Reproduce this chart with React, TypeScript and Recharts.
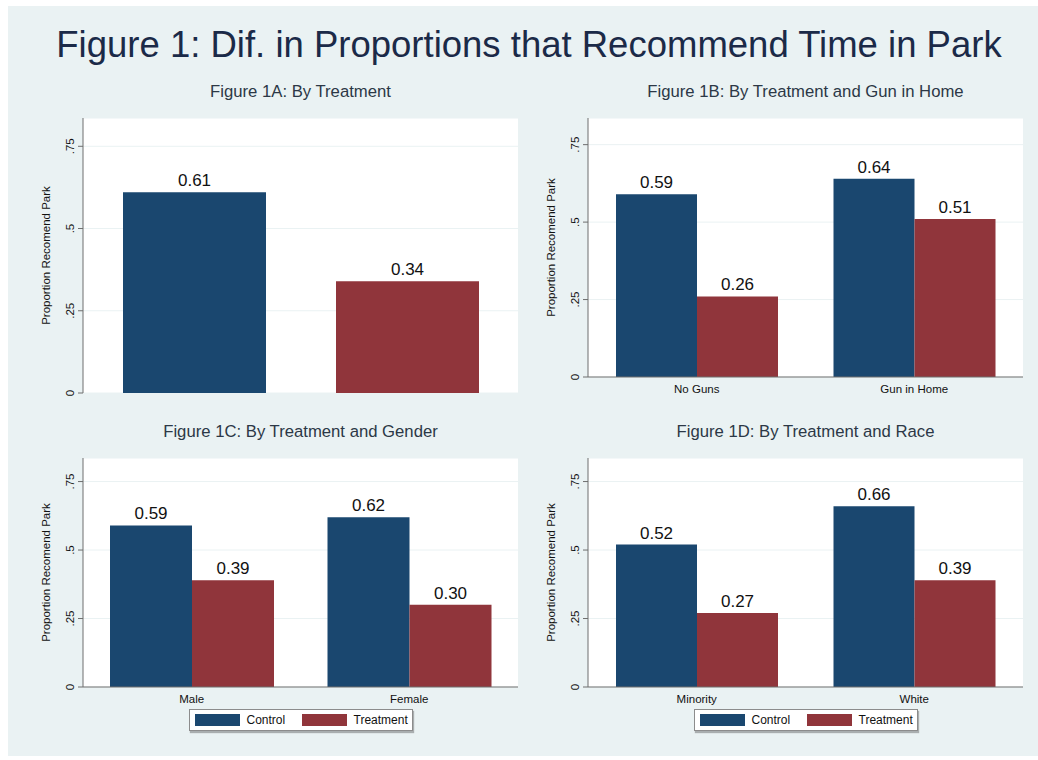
import React from 'react';
import { BarChart, Bar, XAxis, YAxis, CartesianGrid, LabelList, Label } from 'recharts';

// ---- data ----
const SERIES = ['Control', 'Treatment'];
const SERIES_COLORS = ['#1a476f', '#90353b'];

// Figure 1A has a single (overall) group
const OVERALL_GROUP = ['Overall'];
const OVERALL_CONTROL = [0.61];
const OVERALL_TREATMENT = [0.34];

const GUN_GROUPS = ['No Guns', 'Gun in Home'];
const GUN_CONTROL = [0.59, 0.64];
const GUN_TREATMENT = [0.26, 0.51];

const GENDER_GROUPS = ['Male', 'Female'];
const GENDER_CONTROL = [0.59, 0.62];
const GENDER_TREATMENT = [0.39, 0.3];

const RACE_GROUPS = ['Minority', 'White'];
const RACE_CONTROL = [0.52, 0.66];
const RACE_TREATMENT = [0.27, 0.39];

const Y_TICKS = [0, 0.25, 0.5, 0.75];
const Y_TICK_LABELS = ['0', '.25', '.5', '.75'];
const Y_MAX = 0.836;

const MAIN_TITLE = 'Figure 1: Dif. in Proportions that Recommend Time in Park';
const Y_TITLE = 'Proportion Recomend Park';

// ---- style ----
const FONT = '"Liberation Sans", Arial, Helvetica, sans-serif';
const PAGE_BG = '#EAF2F3';
const GRID = '#EAF2F3';
const AXIS = '#6e6e6e';
const TEXT = '#111';

const YTick = (props: any) => {
  const { x, y, payload } = props;
  const idx = Y_TICKS.indexOf(payload.value);
  const cx = x - 6;
  return (
    <text
      x={cx}
      y={y}
      transform={`rotate(-90, ${cx}, ${y})`}
      textAnchor="middle"
      dy="0.35em"
      fontSize={11.5}
      fontFamily={FONT}
      fill={TEXT}
    >
      {idx >= 0 ? Y_TICK_LABELS[idx] : ''}
    </text>
  );
};

const YTitle = (props: any) => {
  const vb = props.viewBox || { x: 0, y: 0, width: 60, height: 200 };
  const cx = vb.x + vb.width - 37;
  const cy = vb.y + vb.height / 2;
  return (
    <text
      x={cx}
      y={cy}
      transform={`rotate(-90, ${cx}, ${cy})`}
      textAnchor="middle"
      dy="0.35em"
      fontSize={11.5}
      fontFamily={FONT}
      fill={TEXT}
    >
      {Y_TITLE}
    </text>
  );
};

type Rect = { x: number; y: number; w: number; h: number };

const YAXIS_W = 60;
const PAD_TOP = 10;
const PAD_RIGHT = 10;
const PAD_BOTTOM = 40;
const XAXIS_H = 30;

const fmt = (v: any) => Number(v).toFixed(2);

function Panel({
  plot,
  data,
  hideCategories,
  categoryGap,
  barGap,
}: {
  plot: Rect;
  data: any[];
  hideCategories: boolean;
  categoryGap: number;
  barGap: number;
}) {
  const width = plot.w + YAXIS_W + PAD_RIGHT;
  const height = plot.h + PAD_TOP + PAD_BOTTOM;
  return (
    <div style={{ position: 'absolute', left: plot.x - YAXIS_W, top: plot.y - PAD_TOP }}>
      <BarChart
        width={width}
        height={height}
        data={data}
        margin={{
          top: PAD_TOP,
          right: PAD_RIGHT,
          left: 0,
          bottom: hideCategories ? PAD_BOTTOM : PAD_BOTTOM - XAXIS_H,
        }}
        barCategoryGap={categoryGap}
        barGap={barGap}
      >
        <CartesianGrid vertical={false} stroke={GRID} fill="#ffffff" />
        <XAxis
          dataKey="group"
          hide={hideCategories}
          height={XAXIS_H}
          tickLine={false}
          axisLine={{ stroke: AXIS }}
          tick={{ fontSize: 11.5, fill: TEXT, fontFamily: FONT }}
          interval={0}
        />
        <YAxis
          width={YAXIS_W}
          domain={[0, Y_MAX]}
          ticks={Y_TICKS}
          allowDataOverflow
          tickSize={5}
          tickMargin={2}
          tickLine={{ stroke: AXIS }}
          axisLine={{ stroke: AXIS }}
          tick={<YTick />}
        >
          <Label content={<YTitle />} />
        </YAxis>
        {SERIES.map((s, i) => (
          <Bar key={s} dataKey={s} fill={SERIES_COLORS[i]} isAnimationActive={false}>
            <LabelList
              dataKey={s}
              position="top"
              offset={6}
              formatter={fmt}
              fill={TEXT}
              fontSize={17}
              fontFamily={FONT}
            />
          </Bar>
        ))}
      </BarChart>
    </div>
  );
}

function LegendBox({ cx, top }: { cx: number; top: number }) {
  const swatchX = [5, 112];
  const textX = [57, 164];
  return (
    <div
      style={{
        position: 'absolute',
        left: cx - 112,
        top,
        width: 224,
        height: 22,
        background: '#fff',
        border: '1px solid #8c8c8c',
        boxShadow: '1px 2px 1px rgba(0,0,0,0.28)',
        boxSizing: 'border-box',
        fontFamily: FONT,
      }}
    >
      {SERIES.map((s, i) => (
        <React.Fragment key={s}>
          <div
            style={{
              position: 'absolute',
              left: swatchX[i],
              top: 4,
              width: 45,
              height: 12,
              background: SERIES_COLORS[i],
            }}
          />
          <div
            style={{
              position: 'absolute',
              left: textX[i],
              top: 3,
              fontSize: 12,
              lineHeight: '14px',
              color: TEXT,
              whiteSpace: 'nowrap',
            }}
          >
            {s}
          </div>
        </React.Fragment>
      ))}
    </div>
  );
}

const PLOT_A: Rect = { x: 83, y: 118, w: 435, h: 275 };
const PLOT_B: Rect = { x: 588, y: 118, w: 435, h: 259 };
const PLOT_C: Rect = { x: 83, y: 458, w: 435, h: 229 };
const PLOT_D: Rect = { x: 588, y: 458, w: 435, h: 229 };

const grouped = (groups: string[], control: number[], treatment: number[]) =>
  groups.map((g, i) => ({ group: g, [SERIES[0]]: control[i], [SERIES[1]]: treatment[i] }));

export default function App() {
  const dataA = grouped(OVERALL_GROUP, OVERALL_CONTROL, OVERALL_TREATMENT);
  const dataB = grouped(GUN_GROUPS, GUN_CONTROL, GUN_TREATMENT);
  const dataC = grouped(GENDER_GROUPS, GENDER_CONTROL, GENDER_TREATMENT);
  const dataD = grouped(RACE_GROUPS, RACE_CONTROL, RACE_TREATMENT);

  const subtitles = [
    { text: 'Figure 1A: By Treatment', plot: PLOT_A, y: 97 },
    { text: 'Figure 1B: By Treatment and Gun in Home', plot: PLOT_B, y: 97 },
    { text: 'Figure 1C: By Treatment and Gender', plot: PLOT_C, y: 437 },
    { text: 'Figure 1D: By Treatment and Race', plot: PLOT_D, y: 437 },
  ];

  return (
    <div
      style={{
        position: 'absolute',
        left: 0,
        top: 0,
        width: 1038,
        height: 760,
        background: '#fff',
        overflow: 'hidden',
        fontFamily: FONT,
      }}
    >
      <svg width={1038} height={760} style={{ position: 'absolute', left: 0, top: 0 }}>
        <rect x={8} y={6} width={1030} height={750} fill={PAGE_BG} />
        <text x={529} y={57} textAnchor="middle" fontSize={36.5} fontFamily={FONT} fill="#1b2a48">
          {MAIN_TITLE}
        </text>
        {subtitles.map((s) => (
          <text
            key={s.text}
            x={s.plot.x + s.plot.w / 2}
            y={s.y}
            textAnchor="middle"
            fontSize={16.7}
            fontFamily={FONT}
            fill="#2c3846"
          >
            {s.text}
          </text>
        ))}
      </svg>
      <Panel plot={PLOT_A} data={dataA} hideCategories categoryGap={40} barGap={70} />
      <Panel plot={PLOT_B} data={dataB} hideCategories={false} categoryGap={28} barGap={0} />
      <Panel plot={PLOT_C} data={dataC} hideCategories={false} categoryGap={27} barGap={0} />
      <Panel plot={PLOT_D} data={dataD} hideCategories={false} categoryGap={28} barGap={0} />
      <LegendBox cx={PLOT_C.x + PLOT_C.w / 2} top={709} />
      <LegendBox cx={PLOT_D.x + PLOT_D.w / 2} top={709} />
    </div>
  );
}
